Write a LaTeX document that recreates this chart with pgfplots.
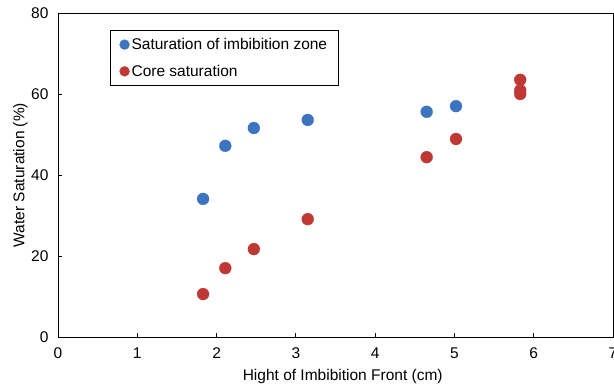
\documentclass[border=0pt]{standalone}
\usepackage{pgfplots}
\pgfplotsset{compat=1.18}
\usepackage{fontspec}
\setmainfont{Liberation Sans}
\definecolor{sblue}{RGB}{60,116,192}
\definecolor{sred}{RGB}{192,56,52}
\begin{document}
\begin{tikzpicture}
\path[use as bounding box] (-58pt,-49pt) rectangle (556pt,337pt);
\begin{axis}[
  at={(0pt,0pt)}, anchor=south west,
  scale only axis, width=555pt, height=324pt,
  xmin=0, xmax=7, ymin=0, ymax=80,
  xtick={0,1,...,7}, ytick={0,20,40,60,80},
  tick align=inside, major tick length=4pt,
  tick style={black, line width=0.8pt},
  xtick pos=bottom, ytick pos=left,
  axis line style={black, line width=0.8pt},
  font=\fontsize{15.5}{18}\selectfont,
  /pgf/number format/assume math mode=true,
  xlabel={Hight of Imbibition Front (cm)},
  ylabel={Water Saturation (\%)},
  xlabel style={at={(axis description cs:0.513,0)}, anchor=north, yshift=-29pt},
  ylabel style={at={(axis description cs:0,0.5)}, anchor=south, yshift=27pt},
  xticklabel style={yshift=-7pt},
  yticklabel style={xshift=-6pt},
  legend cell align=left,
  legend style={at={(rel axis cs:0.094,0.948)}, anchor=north west,
    draw=black, line width=0.8pt, inner xsep=9pt, inner ysep=6pt,
    row sep=10pt, font=\fontsize{15.5}{18}\selectfont},
  legend image code/.code={\draw[#1, mark size=5pt] plot coordinates {(0.25cm,0cm)};},
]
\addplot[only marks, mark=*, mark size=6pt, draw=sblue, line width=0.2pt, fill=sblue] coordinates {
  (1.83,34.1) (2.11,47.2) (2.47,51.6) (3.15,53.6) (4.65,55.6) (5.02,57.0)
};
\addlegendentry{Saturation of imbibition zone}
\addplot[only marks, mark=*, mark size=6pt, draw=sred, line width=0.2pt, fill=sred] coordinates {
  (1.83,10.6) (2.11,17.0) (2.47,21.7) (3.15,29.1) (4.65,44.4) (5.02,48.9) (5.83,63.5) (5.83,60.9) (5.83,60.0)
};
\addlegendentry{Core saturation}
\end{axis}
\end{tikzpicture}
\end{document}
